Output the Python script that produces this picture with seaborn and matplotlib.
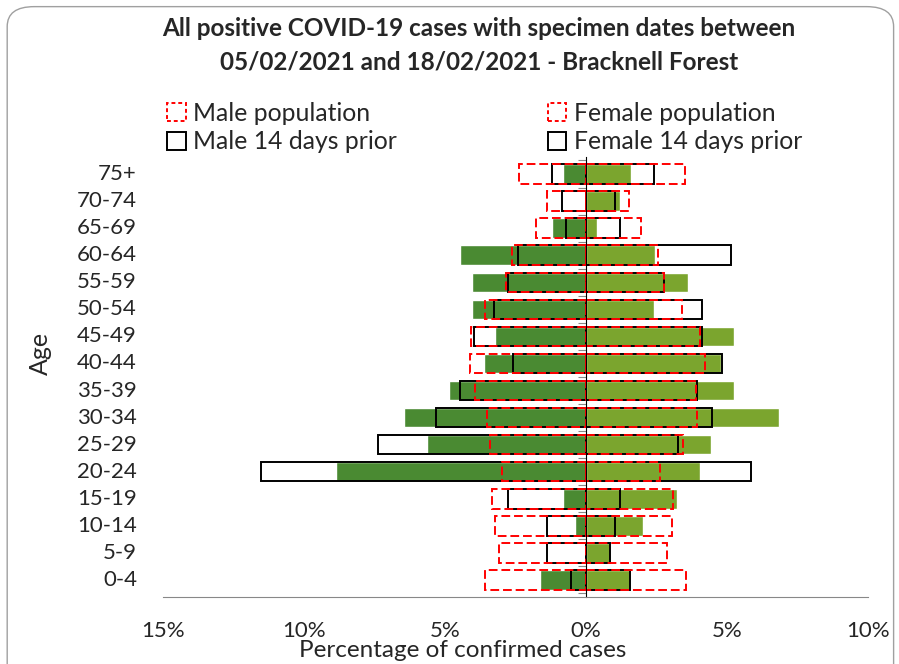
import numpy as np
import pandas as pd
import seaborn as sns
import matplotlib.pyplot as plt
from matplotlib.patches import Patch, FancyBboxPatch
from matplotlib.ticker import FuncFormatter

ages = ["75+", "70-74", "65-69", "60-64", "55-59", "50-54", "45-49", "40-44",
        "35-39", "30-34", "25-29", "20-24", "15-19", "10-14", "5-9", "0-4"]

# percentages of confirmed cases (current 14 days)
male_cases = [0.83, 0.0, 1.22, 4.45, 4.05, 4.05, 3.22, 3.63,
              4.84, 6.45, 5.65, 8.87, 0.81, 0.40, 0.0, 1.62]
female_cases = [1.59, 1.20, 0.39, 2.43, 3.62, 2.42, 5.25, 4.78,
                5.25, 6.85, 4.43, 4.03, 3.22, 2.02, 0.85, 1.57]

# previous 14 days
male_prior = [1.20, 0.86, 0.70, 2.40, 2.76, 3.27, 3.96, 2.58,
              4.47, 5.33, 7.39, 11.52, 2.76, 1.39, 1.39, 0.53]
female_prior = [2.40, 1.04, 1.20, 5.14, 2.75, 4.11, 4.11, 4.81,
                3.95, 4.48, 3.27, 5.85, 1.20, 1.04, 0.85, 1.57]

# population share
male_pop = [2.38, 1.39, 1.77, 2.62, 2.83, 3.57, 4.07, 4.13,
            3.92, 3.52, 3.41, 2.97, 3.32, 3.23, 3.08, 3.57]
female_pop = [3.50, 1.53, 1.96, 2.56, 2.77, 3.42, 4.03, 4.22,
              3.89, 3.94, 3.43, 2.64, 3.10, 3.04, 2.89, 3.54]

df = pd.DataFrame({
    "age": ages,
    "male_cases": -np.array(male_cases),
    "female_cases": female_cases,
    "male_prior": -np.array(male_prior),
    "female_prior": female_prior,
    "male_pop": -np.array(male_pop),
    "female_pop": female_pop,
})

sns.set_style("white")
plt.rcParams["font.family"] = ["Lato", "DejaVu Sans"]

fig = plt.figure(figsize=(8.99, 6.64), dpi=100)
ax = fig.add_axes([0.1813, 0.1009, 0.7842, 0.6627])

w = 0.72
sns.barplot(data=df, x="male_cases", y="age", order=ages, orient="h",
            color="#4a8a32", saturation=1, width=w, errorbar=None, ax=ax)
sns.barplot(data=df, x="female_cases", y="age", order=ages, orient="h",
            color="#7ba52e", saturation=1, width=w, errorbar=None, ax=ax)
for col in ["male_prior", "female_prior"]:
    sns.barplot(data=df, x=col, y="age", order=ages, orient="h",
                color="black", fill=False, linewidth=1.4, width=w,
                errorbar=None, ax=ax)
for col in ["male_pop", "female_pop"]:
    sns.barplot(data=df, x=col, y="age", order=ages, orient="h",
                color="red", fill=False, linewidth=1.4, width=w,
                linestyle=(0, (4.5, 2)), errorbar=None, ax=ax)

ax.set_xlim(-15, 10)
ax.set_ylim(len(ages) - 0.37, -0.63)
ax.set_xticks([-15, -10, -5, 0, 5, 10])
ax.xaxis.set_major_formatter(FuncFormatter(lambda v, p: f"{abs(v):.0f}%"))
ax.tick_params(axis="x", direction="in", length=7, color="#888888",
               labelsize=16, pad=17.5)

# zero line with boundary ticks, labels at the far left
ax.spines["left"].set_position(("data", 0))
ax.spines["left"].set_color("black")
ax.spines["left"].set_linewidth(0.8)
ax.spines["bottom"].set_color("#888888")
for s in ["top", "right"]:
    ax.spines[s].set_visible(False)
ax.set_yticks(range(len(ages)))
ax.set_yticklabels([])
ax.tick_params(axis="y", which="major", length=0)
ax.set_yticks(np.arange(-0.5, len(ages), 1), minor=True)
ax.tick_params(axis="y", which="minor", length=6, direction="out",
               color="#888888", width=0.8, left=True)
for i, a in enumerate(ages):
    ax.text(-0.037, i, a, transform=ax.get_yaxis_transform(),
            ha="right", va="center", fontsize=16)

ax.set_ylabel("")
ax.set_xlabel("Percentage of confirmed cases", fontsize=17.5)
ax.xaxis.set_label_coords(0.4255, -0.098)
fig.text(0.045, 0.467, "Age", rotation=90, fontsize=18, ha="center", va="center")

fig.suptitle("All positive COVID-19 cases with specimen dates between\n"
             "05/02/2021 and 18/02/2021 - Bracknell Forest",
             x=0.533, y=0.974, fontsize=17.5, fontweight="bold", linespacing=1.55)

handles = [
    Patch(facecolor="none", edgecolor="red", linestyle=(0, (2, 1.5)), linewidth=1.4),
    Patch(facecolor="none", edgecolor="black", linewidth=1.4),
    Patch(facecolor="none", edgecolor="red", linestyle=(0, (2, 1.5)), linewidth=1.4),
    Patch(facecolor="none", edgecolor="black", linewidth=1.4),
]
labels = ["Male population", "Male 14 days prior",
          "Female population", "Female 14 days prior"]
fig.legend(handles, labels, ncol=2, loc="upper left",
           bbox_to_anchor=(0.172, 0.865), frameon=False, fontsize=17.8,
           handlelength=0.75, handleheight=0.75, handletextpad=0.3,
           columnspacing=6.1, labelspacing=0.21, borderpad=0)

fig.patches.append(FancyBboxPatch((0.008, -0.05), 0.986, 1.04,
                                  boxstyle="round,pad=0,rounding_size=0.03",
                                  transform=fig.transFigure, fill=False,
                                  edgecolor="#a0a0a0", linewidth=1))

fig.savefig("out.png", dpi=100)
